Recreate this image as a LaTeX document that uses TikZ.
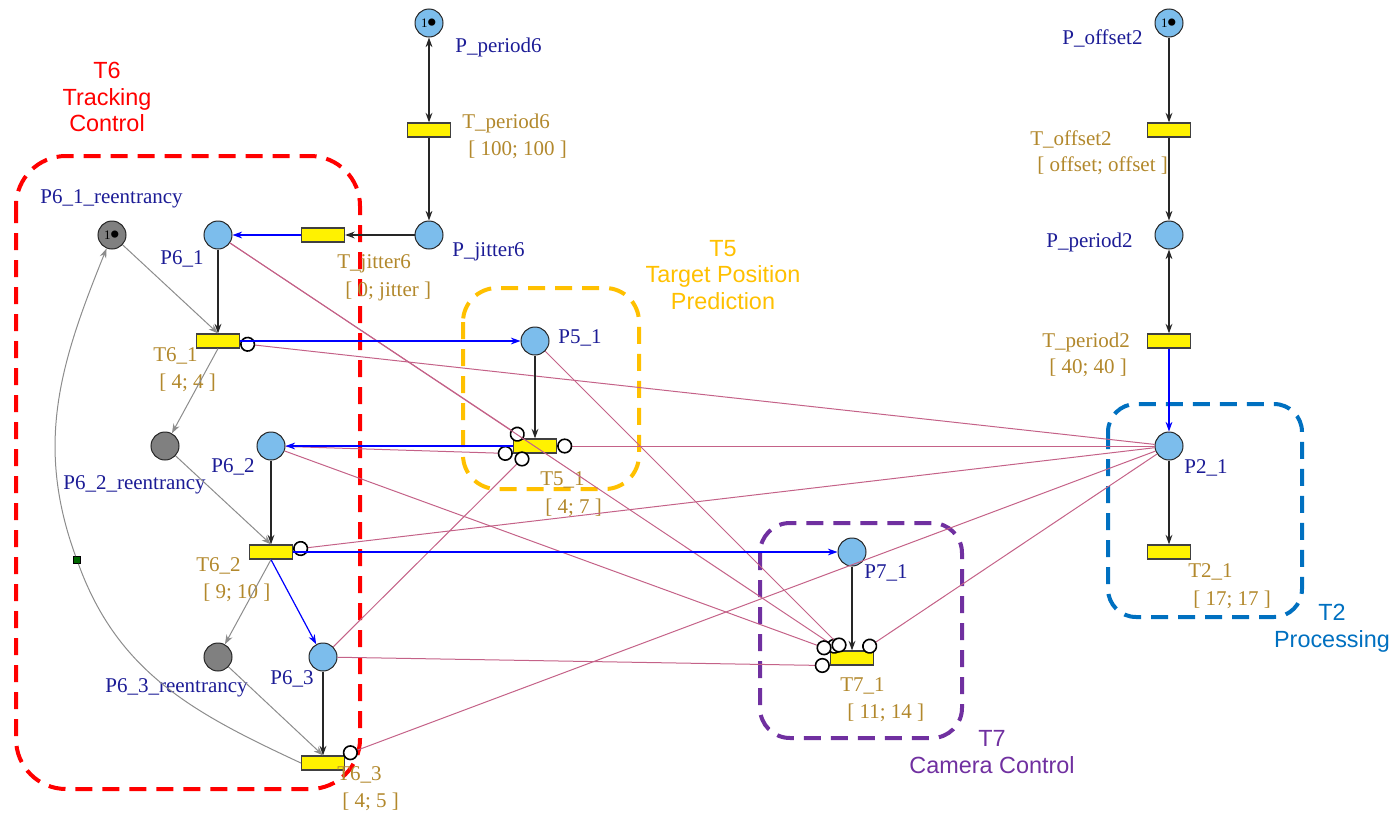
\documentclass[tikz,border=0pt]{standalone}
\usepackage{fontspec}
\setmainfont{Liberation Serif}
\setsansfont{Liberation Sans}
\usepackage{tikz}
\usetikzlibrary{arrows.meta}
\usetikzlibrary{positioning}

\definecolor{placeblue}{RGB}{124,189,236}
\definecolor{placegray}{RGB}{128,128,128}
\definecolor{pname}{RGB}{28,28,150}
\definecolor{tname}{RGB}{178,136,44}
\definecolor{inhpink}{RGB}{196,98,136}
\definecolor{grpred}{RGB}{255,0,0}
\definecolor{grporange}{RGB}{255,192,0}
\definecolor{grppurple}{RGB}{112,48,160}
\definecolor{grpblue}{RGB}{0,112,192}

\begin{document}
\begin{tikzpicture}[x=0.5pt,y=-0.5pt,
      >={Stealth[length=4.8pt,width=3.4pt]},
      place/.style={circle,draw=black!85,fill=placeblue,minimum size=14pt,inner sep=0pt,line width=0.5pt},
      rplace/.style={place,fill=placegray},
      marked/.style={font=\fontsize{6.5}{7}\selectfont},
      trans/.style={rectangle,draw=black!75,fill=yellow,minimum width=21.5pt,minimum height=7pt,inner sep=0pt,line width=0.6pt},
      plab/.style={anchor=west,inner sep=0pt,text=pname,font=\fontsize{10.5}{12}\selectfont},
      tlab/.style={anchor=west,inner sep=0pt,text=tname,font=\fontsize{10.5}{12}\selectfont},
      arc/.style={->,line width=0.6pt,black!85},
      bluearc/.style={->,line width=0.6pt,blue},
      grayarc/.style={->,line width=0.5pt,black!45},
      inhib/.style={line width=0.5pt,inhpink,-{Circle[color=black,fill=white,length=7.6pt,line width=0.8pt]}},
      group/.style={line width=2pt,dash pattern=on 8.5pt off 5pt},
      gtitle/.style={align=center,font=\sffamily\fontsize{11.7}{13.3}\selectfont},
  ]
  \useasboundingbox (0,0) rectangle (1393,814);

  % task groups
  \draw[group,draw=grpred,rounded corners=25pt] (16,156) rectangle (360,789);
  \draw[group,draw=grporange,rounded corners=17pt] (463,288) rectangle (639,489);
  \draw[group,draw=grppurple,rounded corners=15pt] (760,523) rectangle (962,738);
  \draw[group,draw=grpblue,rounded corners=14pt] (1108,404) rectangle (1302,617);
  \node[gtitle,text=grpred] (t6name) at (107,97) {T6\\Tracking\\Control};
  \node[gtitle,text=grporange] (t5name) at (723,275) {T5\\Target Position\\Prediction};
  \node[gtitle,text=grppurple] (t7name) at (992,752) {T7\\Camera Control};
  \node[gtitle,text=grpblue] (t2name) at (1332,628) {T2\\Processing};

  % period and jitter of T6
  \node[place,marked] (Pperiod6) at (429,23) {1\kern-0.5pt\raisebox{-2.7pt}[0pt][0pt]{\fontsize{15}{15}\selectfont •}};
  \node[trans] (Tperiod6) at (429,130) {};
  \node[place] (Pjitter6) at (429,235) {};
  \node[trans] (Tjitter6) at (323,235) {};

  % T6 chain with reentrancy places
  \node[rplace,marked] (P61r) at (112,235) {1\kern-0.5pt\raisebox{-2.7pt}[0pt][0pt]{\fontsize{15}{15}\selectfont •}};
  \node[place] (P61) at (218,235) {};
  \node[trans] (T61) at (218,341) {};
  \node[rplace] (P62r) at (165,446) {};
  \node[place] (P62) at (271,446) {};
  \node[trans] (T62) at (271,552) {};
  \node[rplace] (P63r) at (218,657) {};
  \node[place] (P63) at (323,657) {};
  \node[trans] (T63) at (323,763) {};
  \node[draw=black,fill=green!40!black,minimum size=3.5pt,inner sep=0pt] (bend) at (77,560) {};

  % T5 and T7
  \node[place] (P51) at (535,341) {};
  \node[trans] (T51) at (535,446) {};
  \node[place] (P71) at (852,552) {};
  \node[trans] (T71) at (852,658) {};

  % offset, period and body of T2
  \node[place,marked] (Poffset2) at (1169,23) {1\kern-0.5pt\raisebox{-2.7pt}[0pt][0pt]{\fontsize{15}{15}\selectfont •}};
  \node[trans] (Toffset2) at (1169,130) {};
  \node[place] (Pperiod2) at (1169,235) {};
  \node[trans] (Tperiod2) at (1169,341) {};
  \node[place] (P21) at (1169,446) {};
  \node[trans] (T21) at (1169,552) {};

  % labels
  \node[plab] (lPperiod6) at (455,47) {P\_period6};
  \node[tlab] (lTperiod6) at (462,123) {T\_period6};
  \node[tlab] (iTperiod6) at (468,150) {[ 100; 100 ]};
  \node[plab] (lPjitter6) at (452,252) {P\_jitter6};
  \node[tlab] (lTjitter6) at (337,264) {T\_jitter6};
  \node[tlab] (iTjitter6) at (345,291) {[ 0; jitter ]};
  \node[plab] (lP61r) at (40,199) {P6\_1\_reentrancy};
  \node[plab] (lP61) at (160,259) {P6\_1};
  \node[tlab] (lT61) at (153,356) {T6\_1};
  \node[tlab] (iT61) at (159,383) {[ 4; 4 ]};
  \node[plab] (lP62r) at (63,485) {P6\_2\_reentrancy};
  \node[plab] (lP62) at (211,467) {P6\_2};
  \node[tlab] (lT62) at (196,566) {T6\_2};
  \node[tlab] (iT62) at (203,593) {[ 9; 10 ]};
  \node[plab] (lP63r) at (105,688) {P6\_3\_reentrancy};
  \node[plab] (lP63) at (270,679) {P6\_3};
  \node[tlab] (lT63) at (337,775) {T6\_3};
  \node[tlab] (iT63) at (342,802) {[ 4; 5 ]};
  \node[plab] (lP51) at (558,338) {P5\_1};
  \node[tlab] (lT51) at (540,480) {T5\_1};
  \node[tlab] (iT51) at (545,508) {[ 4; 7 ]};
  \node[plab] (lP71) at (864,573) {P7\_1};
  \node[tlab] (lT71) at (840,686) {T7\_1};
  \node[tlab] (iT71) at (847,713) {[ 11; 14 ]};
  \node[plab] (lPoffset2) at (1062,38) {P\_offset2};
  \node[tlab] (lToffset2) at (1030,139) {T\_offset2};
  \node[tlab] (iToffset2) at (1037,166) {[ offset; offset ]};
  \node[plab] (lPperiod2) at (1046,242) {P\_period2};
  \node[tlab] (lTperiod2) at (1042,342) {T\_period2};
  \node[tlab] (iTperiod2) at (1049,368) {[ 40; 40 ]};
  \node[plab] (lP21) at (1184,468) {P2\_1};
  \node[tlab] (lT21) at (1188,572) {T2\_1};
  \node[tlab] (iT21) at (1193,600) {[ 17; 17 ]};

  % inhibitor arcs (priorities)
  \draw[inhib] (P21) -- (T61);
  \draw[inhib] (P21) -- (T51);
  \draw[inhib] (P21) -- (T62);
  \draw[inhib] (P21) -- (T63);
  \draw[inhib] (P21) -- (T71);
  \draw[inhib] (P61) -- (T51);
  \draw[inhib] (P61) -- (T71);
  \draw[inhib] (P62) -- (T51.south west);
  \draw[inhib] (P62) -- (T71);
  \draw[inhib] (P63) -- (T51);
  \draw[inhib] (P63) -- (T71.south west);
  \draw[inhib] (P51) -- (T71);

  % ordinary arcs
  \draw[arc,<->] (Pperiod6) -- (Tperiod6);
  \draw[arc] (Tperiod6) -- (Pjitter6);
  \draw[arc] (Pjitter6) -- (Tjitter6);
  \draw[bluearc] (Tjitter6) -- (P61);
  \draw[arc] (P61) -- (T61);
  \draw[grayarc] (P61r) -- (T61.north);
  \draw[grayarc] (T61.south) -- (P62r);
  \draw[bluearc] (T61) -- (P51);
  \draw[arc] (P51) -- (T51);
  \draw[bluearc] (T51) -- (P62);
  \draw[arc] (P62) -- (T62);
  \draw[grayarc] (P62r) -- (T62.north);
  \draw[grayarc] (T62.south) -- (P63r);
  \draw[bluearc] (T62.south) -- (P63);
  \draw[bluearc] (T62) -- (P71);
  \draw[arc] (P71) -- (T71);
  \draw[arc] (P63) -- (T63);
  \draw[grayarc] (P63r) -- (T63.north);
  \draw[grayarc] (T63.west) to[out=155,in=-70] (bend) to[out=110,in=-112] (P61r);

  \draw[arc] (Poffset2) -- (Toffset2);
  \draw[arc] (Toffset2) -- (Pperiod2);
  \draw[arc,<->] (Pperiod2) -- (Tperiod2);
  \draw[bluearc] (Tperiod2) -- (P21);
  \draw[arc] (P21) -- (T21);
\end{tikzpicture}
\end{document}
